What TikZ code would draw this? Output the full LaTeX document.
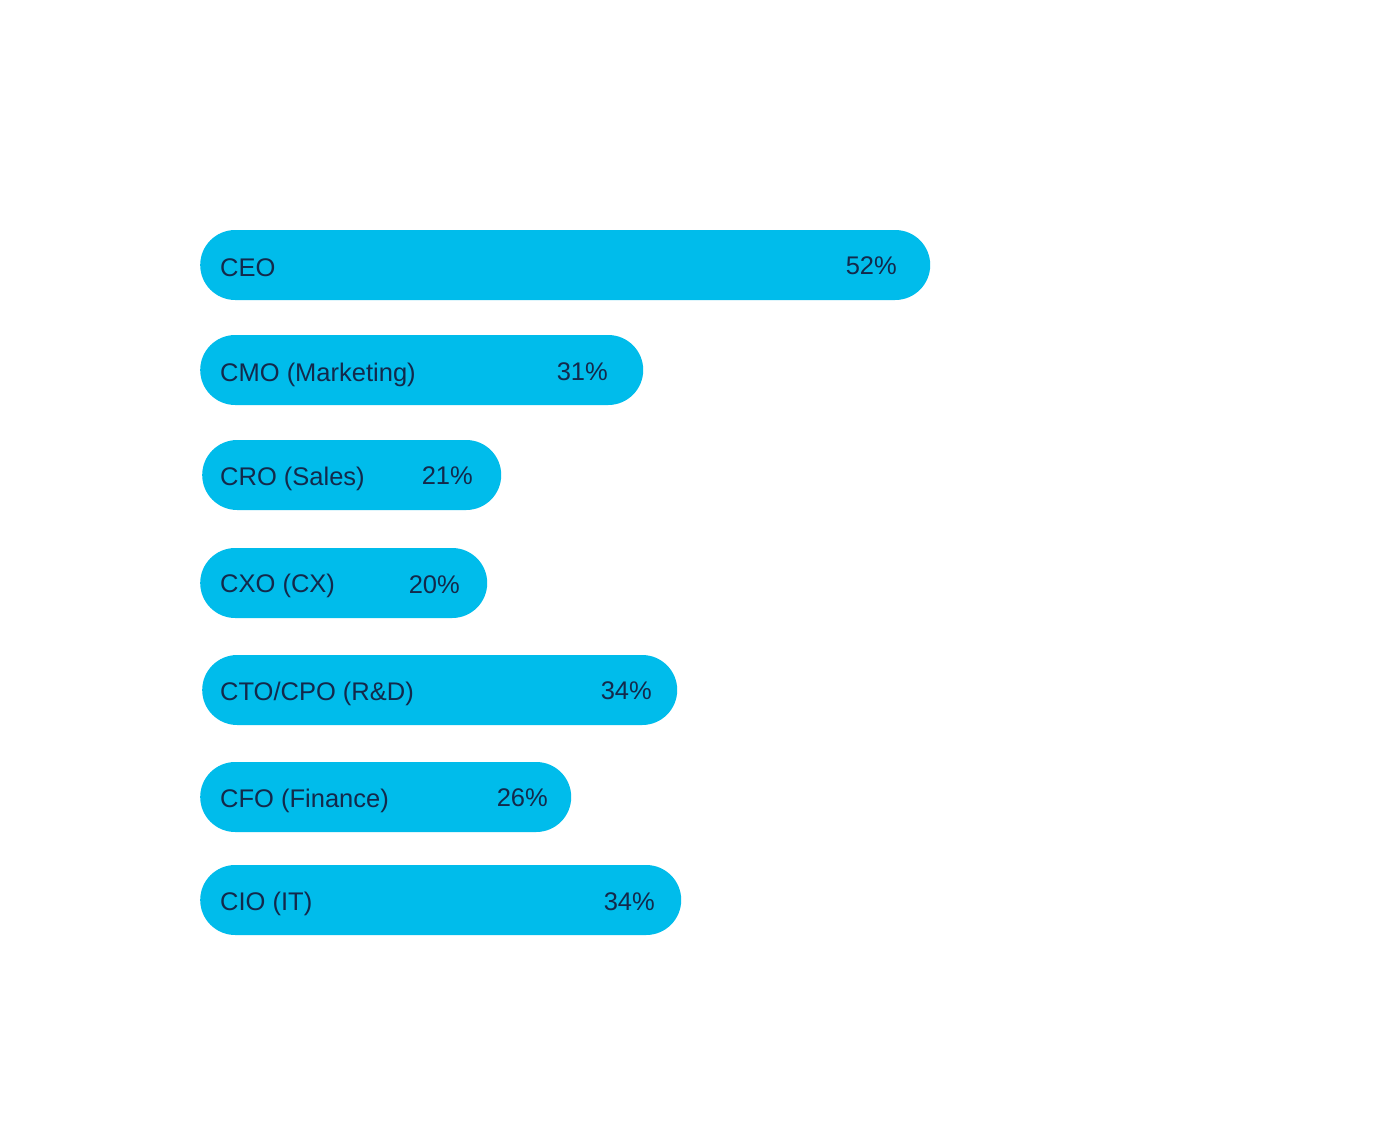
\documentclass[tikz,border=0pt]{standalone}
\usepackage{fontspec}
\setmainfont{Liberation Sans}
\definecolor{barblue}{HTML}{00BCEB}
\definecolor{navy}{HTML}{13294B}
\begin{document}
\begin{tikzpicture}[x=1pt,y=-1pt,
  bar/.style={fill=barblue, draw=none, rounded corners=35pt, minimum height=70pt, inner sep=0pt, anchor=west},
  lab/.style={text=navy, font=\fontsize{25.5}{30}\selectfont, anchor=mid west, inner sep=0pt},
  pct/.style={text=navy, font=\fontsize{25.5}{30}\selectfont, anchor=mid east, inner sep=0pt}]
\useasboundingbox (0,0) rectangle (1373,1142);
\fill[white] (0,0) rectangle (1373,1142);
% bars
\node[bar, minimum width=730pt] (ceo) at (200,265) {};
\node[bar, minimum width=443pt] (cmo) at (200,370) {};
\node[bar, minimum width=299pt] (cro) at (202,475) {};
\node[bar, minimum width=287pt] (cxo) at (200,583) {};
\node[bar, minimum width=475pt] (cto) at (202,690) {};
\node[bar, minimum width=371pt] (cfo) at (200,797) {};
\node[bar, minimum width=481pt] (cio) at (200,900) {};
% labels
\node[lab] (ceol) at (220,274) {CEO};
\node[lab] (cmol) at (220,379) {CMO (Marketing)};
\node[lab] (crol) at (220,483) {CRO (Sales)};
\node[lab] (cxol) at (220,590) {CXO (CX)};
\node[lab] (ctol) at (220,698) {CTO/CPO (R\&D)};
\node[lab] (cfol) at (220,805) {CFO (Finance)};
\node[lab] (ciol) at (220,908) {CIO (IT)};
% percentages
\node[pct] (ceop) at (897,272) {52\%};
\node[pct] (cmop) at (608,378) {31\%};
\node[pct] (crop) at (473,482) {21\%};
\node[pct] (cxop) at (460,591) {20\%};
\node[pct] (ctop) at (652,697) {34\%};
\node[pct] (cfop) at (548,804) {26\%};
\node[pct] (ciop) at (655,908) {34\%};
\end{tikzpicture}
\end{document}
